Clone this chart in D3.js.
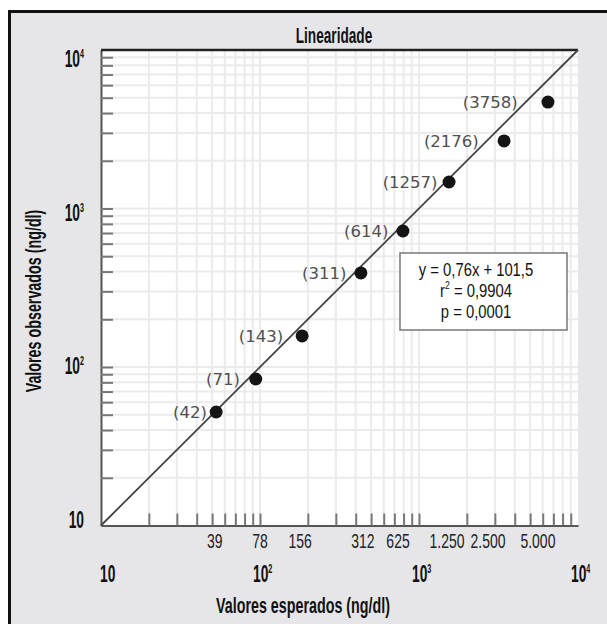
<!DOCTYPE html>
<html>
<head>
<meta charset="utf-8">
<script src="https://cdn.jsdelivr.net/npm/d3@7"></script>
<style>
  body { margin: 0; background: #fff; }
  svg { display: block; }
</style>
</head>
<body>
<div id="chart"></div>
<script>
// values as printed on the chart
const expectedLabels = ['39', '78', '156', '312', '625', '1.250', '2.500', '5.000']
const observedLabels = ['(42)', '(71)', '(143)', '(311)', '(614)', '(1257)', '(2176)', '(3758)']

// where the points sit on the log axes
const pointX = [53, 94, 184, 431, 792, 1545, 3428, 6470]
const pointY = [52, 84, 157, 392, 721, 1469, 2668, 4690]

// where the expected value labels sit along the x axis
const expectedTickAt = [52, 100, 179, 444, 738, 1500, 2716, 5597]

const majorTicks = [10, 100, 1000, 10000]
const majorExp = ['', '2', '3', '4']

const statLines = [
  ['y = 0,76x + 101,5', ''],
  ['r', '2', ' = 0,9904'],
  ['p = 0,0001', '']
]

const width = 607
const height = 624
const plot = { left: 101, right: 578, top: 50, bottom: 525.5 }

const boldFont = '"Liberation Sans", Arial, sans-serif'

const svg = d3
  .select('#chart')
  .append('svg')
  .attr('width', width)
  .attr('height', height)

// frame
svg
  .append('rect')
  .attr('x', 9.5)
  .attr('y', 11.5)
  .attr('width', 640)
  .attr('height', 640)
  .attr('fill', '#e6e6e8')
  .attr('stroke', '#111')
  .attr('stroke-width', 3)

const xPositionScale = d3.scaleLog().domain([10, 10000]).range([plot.left, plot.right])
const yPositionScale = d3.scaleLog().domain([10, 10000]).range([plot.bottom, plot.top])

// condensed text: a group placed at x,y, the text squeezed horizontally
function condensed(parent, x, y, k, rotate) {
  const g = parent
    .append('g')
    .attr('transform', 'translate(' + x + ',' + y + ')' + (rotate ? ' rotate(' + rotate + ')' : ''))
  return g.append('text').attr('transform', 'scale(' + k + ',1)')
}

svg
  .append('rect')
  .attr('x', plot.left)
  .attr('y', plot.top)
  .attr('width', plot.right - plot.left)
  .attr('height', plot.bottom - plot.top)
  .attr('fill', '#fff')

const minor = xPositionScale.ticks().filter(d => d > 10 && d < 10000)

/* grid */
svg
  .append('g')
  .selectAll('line')
  .data(minor)
  .enter()
  .append('line')
  .attr('x1', d => xPositionScale(d))
  .attr('x2', d => xPositionScale(d))
  .attr('y1', plot.top)
  .attr('y2', plot.bottom)
  .attr('stroke', '#ebebeb')
  .attr('stroke-width', 2)

svg
  .append('g')
  .selectAll('line')
  .data(minor)
  .enter()
  .append('line')
  .attr('y1', d => yPositionScale(d))
  .attr('y2', d => yPositionScale(d))
  .attr('x1', plot.left)
  .attr('x2', plot.right)
  .attr('stroke', '#ebebeb')
  .attr('stroke-width', 2)

/* axes, ticks pointing inwards */
const xAxis = d3
  .axisBottom(xPositionScale)
  .tickValues(minor)
  .tickSize(-12)
  .tickSizeOuter(0)
  .tickFormat('')

svg
  .append('g')
  .attr('class', 'axis x-axis')
  .attr('transform', 'translate(0,' + plot.bottom + ')')
  .call(xAxis)

const yAxis = d3
  .axisLeft(yPositionScale)
  .tickValues(minor)
  .tickSize(-12)
  .tickSizeOuter(0)
  .tickFormat('')

svg
  .append('g')
  .attr('class', 'axis y-axis')
  .attr('transform', 'translate(' + plot.left + ',0)')
  .call(yAxis)

svg.selectAll('.axis .tick line').attr('stroke', '#777').attr('stroke-width', 2)
svg.selectAll('.axis .domain').attr('stroke', '#555').attr('stroke-width', 2)

// top edge of the plot
svg
  .append('line')
  .attr('x1', plot.left)
  .attr('x2', plot.right)
  .attr('y1', plot.top)
  .attr('y2', plot.top)
  .attr('stroke', '#222')
  .attr('stroke-width', 2.5)

/* identity line */
const line = d3
  .line()
  .x(d => xPositionScale(d))
  .y(d => yPositionScale(d))

svg
  .append('path')
  .datum([10, 10000])
  .attr('d', line)
  .attr('fill', 'none')
  .attr('stroke', '#444')
  .attr('stroke-width', 1.8)

/* points */
svg
  .append('g')
  .selectAll('circle')
  .data(pointX)
  .enter()
  .append('circle')
  .attr('cx', d => xPositionScale(d))
  .attr('cy', (d, i) => yPositionScale(pointY[i]))
  .attr('r', 6.5)
  .attr('fill', '#141414')

svg
  .append('g')
  .selectAll('text')
  .data(observedLabels)
  .enter()
  .append('text')
  .attr('x', (d, i) => Math.min(xPositionScale(pointX[i]), xPositionScale(pointY[i])) - 8)
  .attr('y', (d, i) => yPositionScale(pointY[i]))
  .attr('dy', '0.36em')
  .attr('text-anchor', 'end')
  .style('font-family', '"DejaVu Sans", Verdana, sans-serif')
  .style('font-size', '16.5px')
  .attr('fill', '#505050')
  .text(d => d)

/* expected value labels under the x axis */
expectedLabels.forEach((label, i) => {
  condensed(svg, xPositionScale(expectedTickAt[i]), 548, 0.7)
    .attr('text-anchor', 'middle')
    .style('font-family', boldFont)
    .style('font-size', '20px')
    .attr('fill', '#222')
    .text(label)
})

/* powers of ten */
function powerLabel(sel, i) {
  sel
    .style('font-family', boldFont)
    .style('font-weight', 'bold')
    .style('font-size', '23px')
    .attr('fill', '#111')
  sel.append('tspan').text('10')
  if (majorExp[i]) {
    sel.append('tspan').attr('dy', -9).style('font-size', '12px').text(majorExp[i])
  }
}

const yLabelScale = yPositionScale.copy().range([528, 67])
majorTicks.forEach((v, i) => {
  const t = condensed(svg, 84, yLabelScale(v), 0.6).attr('text-anchor', 'end')
  powerLabel(t, i)
})

majorTicks.forEach((v, i) => {
  const x = i === 0 ? xPositionScale(v) - 1 : xPositionScale(v) - 7
  const t = condensed(svg, x, 582, 0.6).attr('text-anchor', 'start')
  powerLabel(t, i)
})

/* title and axis titles */
condensed(svg, 334, 43, 0.62)
  .attr('text-anchor', 'middle')
  .style('font-family', boldFont)
  .style('font-weight', 'bold')
  .style('font-size', '22px')
  .attr('fill', '#111')
  .text('Linearidade')

condensed(svg, 303, 613, 0.65)
  .attr('text-anchor', 'middle')
  .style('font-family', boldFont)
  .style('font-weight', 'bold')
  .style('font-size', '22px')
  .attr('fill', '#111')
  .text('Valores esperados (ng/dl)')

condensed(svg, 41, 301, 0.65, -90)
  .attr('text-anchor', 'middle')
  .style('font-family', boldFont)
  .style('font-weight', 'bold')
  .style('font-size', '22px')
  .attr('fill', '#111')
  .text('Valores observados (ng/dl)')

/* regression box */
svg
  .append('rect')
  .attr('x', 400)
  .attr('y', 253)
  .attr('width', 167)
  .attr('height', 77)
  .attr('fill', '#fff')
  .attr('stroke', '#777')
  .attr('stroke-width', 1.5)

statLines.forEach((parts, i) => {
  const t = condensed(svg, 476, 276 + i * 21, 0.78)
    .attr('text-anchor', 'middle')
    .style('font-family', boldFont)
    .style('font-size', '19px')
    .attr('fill', '#111')
  if (parts.length === 3) {
    t.append('tspan').text(parts[0])
    t.append('tspan').attr('dy', -8).style('font-size', '11px').text(parts[1])
    t.append('tspan').attr('dy', 8).text(parts[2])
  } else {
    t.text(parts[0])
  }
})
</script>
</body>
</html>
